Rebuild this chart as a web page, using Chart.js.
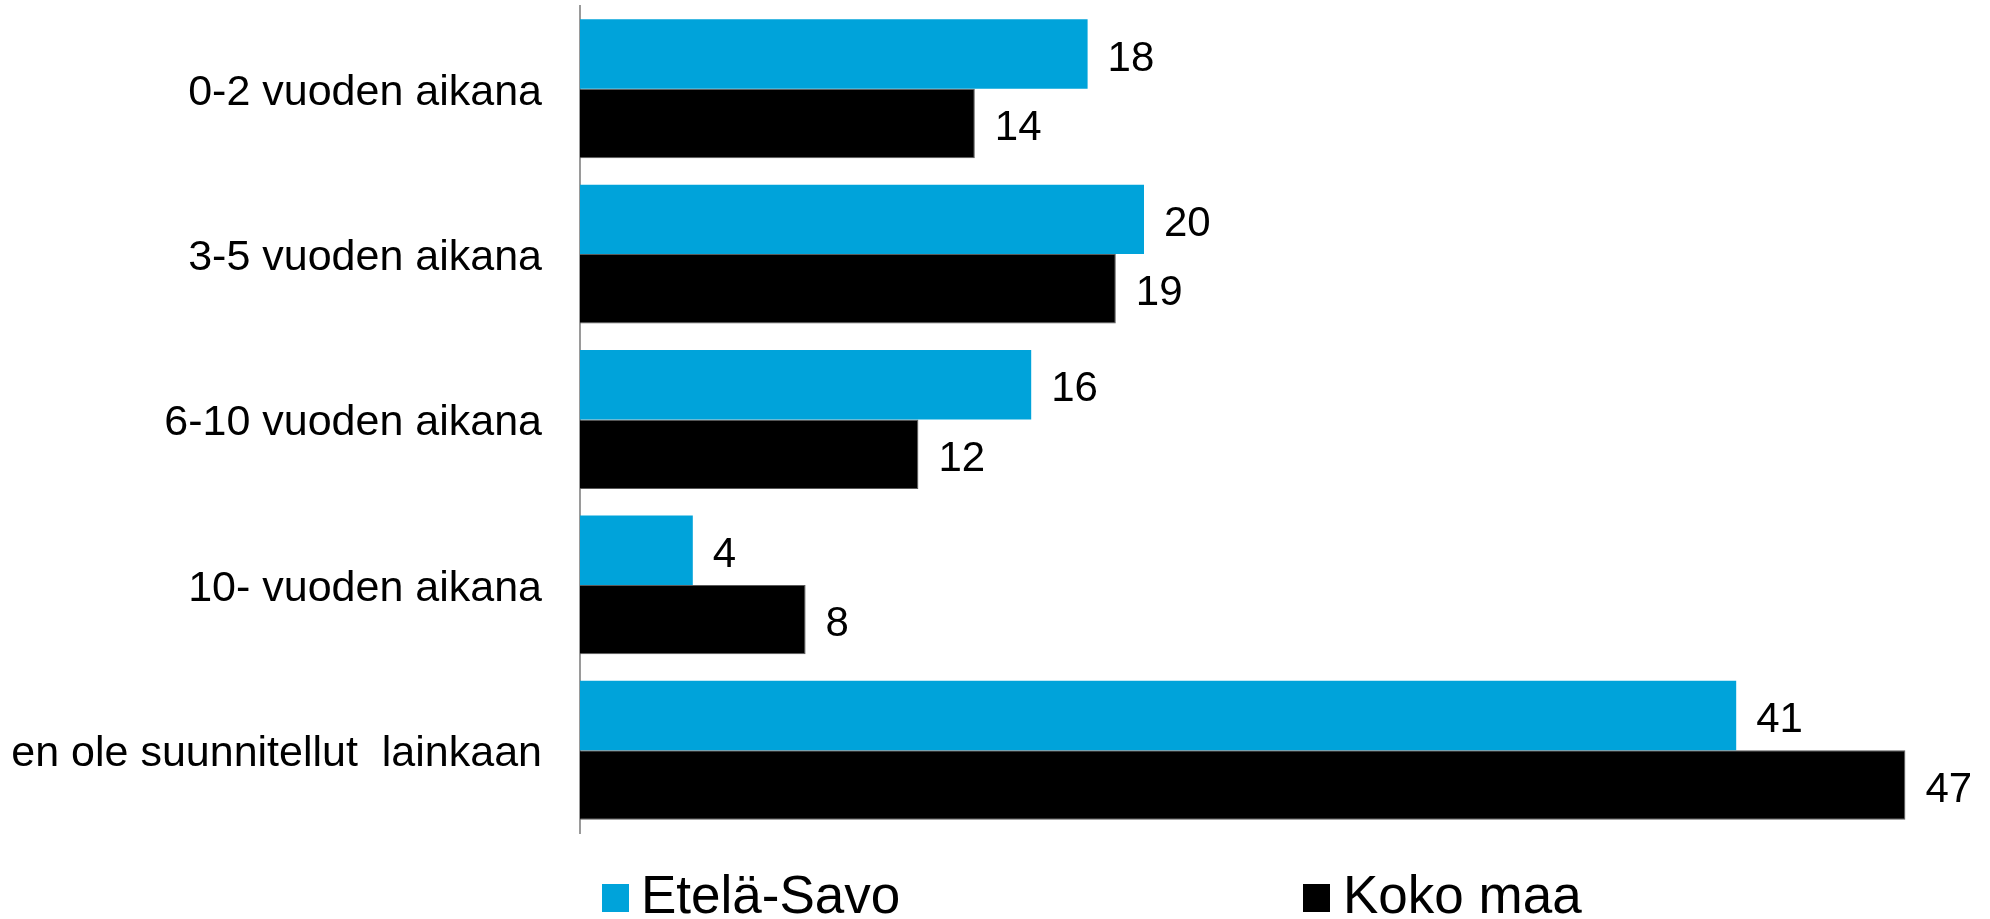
<!DOCTYPE html>
<html>
<head>
<meta charset="utf-8">
<script src="https://cdn.jsdelivr.net/npm/chart.js@4/dist/chart.umd.min.js"></script>
<style>
    html, body { margin: 0; padding: 0; background: #fff; }
    #wrap { position: relative; width: 1990px; height: 919px; overflow: hidden; }
    #chart { position: absolute; left: 0; top: 0; }
    .legend-item { position: absolute; top: 868px; font: 53px "Liberation Sans", Arial, sans-serif; line-height: 53px; color: #000; white-space: nowrap; }
    .legend-box { position: absolute; top: 884px; width: 27px; height: 28px; }
</style>
</head>
<body>
<div id="wrap">
    <canvas id="chart" width="1990" height="919"></canvas>
    <div id="legend"></div>
</div>
<script>
const categories = ['0-2 vuoden aikana', '3-5 vuoden aikana', '6-10 vuoden aikana', '10- vuoden aikana', 'en ole suunnitellut  lainkaan'];
const seriesNames = ['Etelä-Savo', 'Koko maa'];
const etelaSavo = [18, 20, 16, 4, 41];
const kokoMaa = [14, 19, 12, 8, 47];
const colors = ['#00A3DA', '#000000'];

const FONT = '"Liberation Sans", Arial, sans-serif';

// Value labels at the end of each bar
const valueLabels = {
    id: 'valueLabels',
    afterDatasetsDraw(chart) {
        const ctx = chart.ctx;
        ctx.save();
        ctx.font = '42px ' + FONT;
        ctx.fillStyle = '#000';
        ctx.textAlign = 'left';
        ctx.textBaseline = 'middle';
        chart.data.datasets.forEach((ds, di) => {
            chart.getDatasetMeta(di).data.forEach((bar, i) => {
                ctx.fillText(ds.data[i], bar.x + 20, bar.y + 5);
            });
        });
        ctx.restore();
    }
};

new Chart(document.getElementById('chart').getContext('2d'), {
    type: 'bar',
    data: {
        labels: categories,
        datasets: [
            { label: seriesNames[0], data: etelaSavo, backgroundColor: colors[0], borderWidth: 0 },
            { label: seriesNames[1], data: kokoMaa, backgroundColor: colors[1], borderColor: '#5a5a5a', borderWidth: 1 }
        ]
    },
    options: {
        indexAxis: 'y',
        responsive: false,
        animation: false,
        layout: { padding: { top: 6, bottom: 86, right: 0, left: 0 } },
        datasets: { bar: { categoryPercentage: 0.84, barPercentage: 1 } },
        scales: {
            x: { display: false, min: 0, max: 50 },
            y: {
                grid: { display: false, drawTicks: false },
                border: { display: true, color: '#9a9a9a', width: 2 },
                ticks: { color: '#000', padding: 38, labelOffset: 4, font: { size: 43, family: FONT } },
                afterFit(scale) {
                    scale.width = 580;
                    scale.paddingTop = 0;
                    scale.paddingBottom = 0;
                }
            }
        },
        plugins: {
            legend: { display: false },
            tooltip: { enabled: false }
        }
    },
    plugins: [valueLabels]
});

// Legend below the chart, spaced like the original
const legendPos = [{ box: 602, text: 641 }, { box: 1303, text: 1343 }];
document.getElementById('legend').innerHTML = seriesNames.map((name, i) => `
    <div class="legend-box" style="left:${legendPos[i].box}px;background:${colors[i]}"></div>
    <div class="legend-item" style="left:${legendPos[i].text}px">${name}</div>
`).join('');
</script>
</body>
</html>
